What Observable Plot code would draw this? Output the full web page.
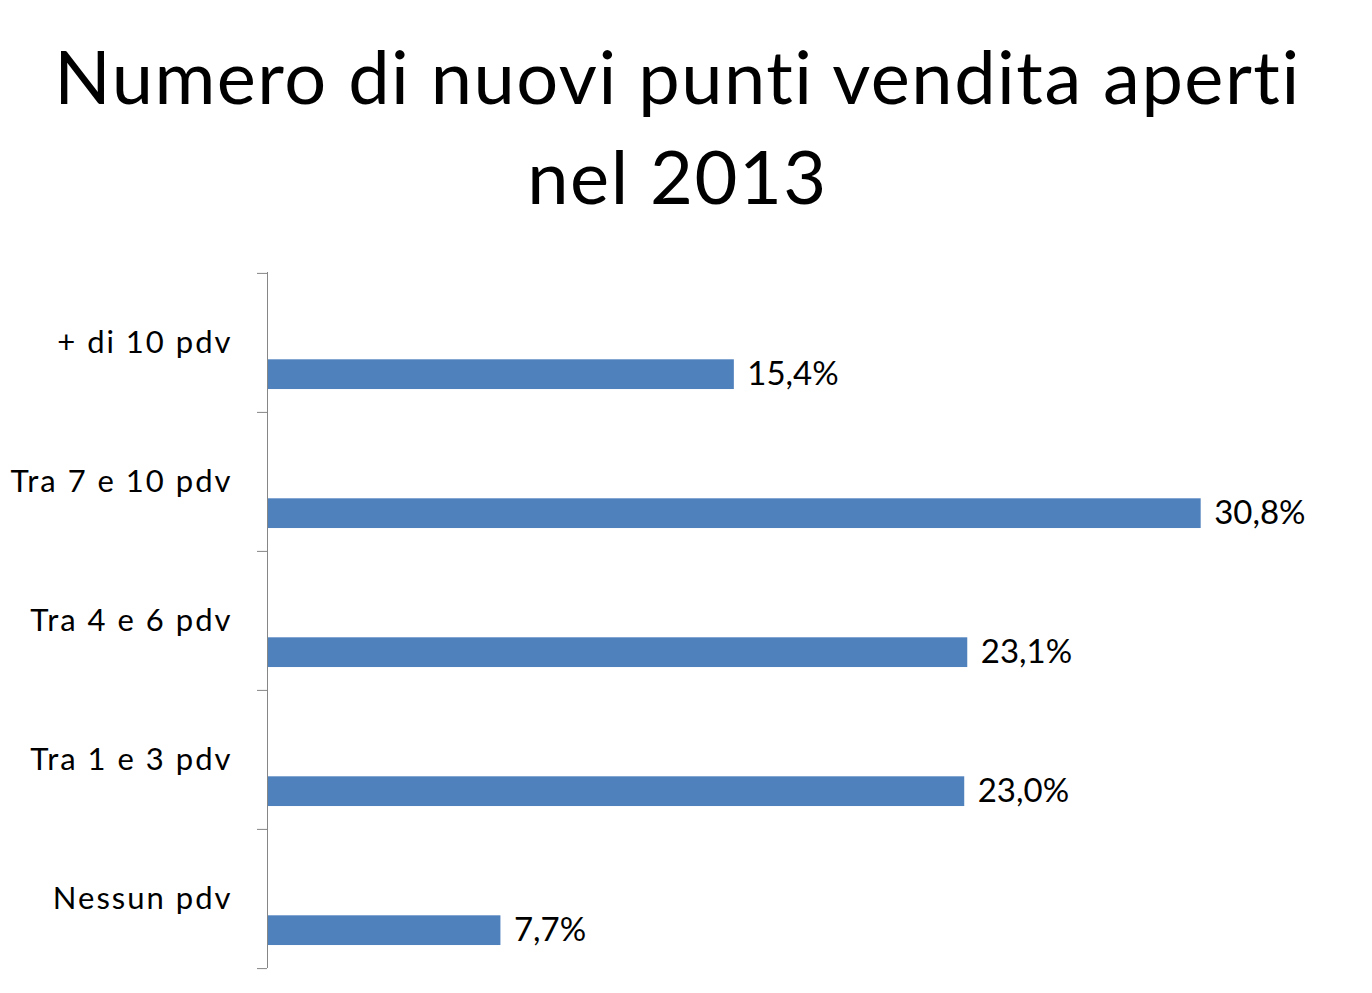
<!DOCTYPE html>
<html>
<head>
<meta charset="utf-8">
<script src="https://cdn.jsdelivr.net/npm/d3@7"></script>
<script src="https://cdn.jsdelivr.net/npm/@observablehq/plot@0.6"></script>
<style>
  html, body { margin: 0; padding: 0; background: #fff; }
  #title { width: 1355px; text-align: center; font-family: Lato, sans-serif; font-size: 74px; letter-spacing: 1.5px; font-variant-ligatures: none; line-height: 100px; color: #000; padding-top: 26px; height: 222px; box-sizing: border-box; }
  #chart svg { display: block; font-variant-ligatures: none; }
  #chart g[aria-label="y-axis tick label"] text { letter-spacing: 2px; }
</style>
</head>
<body>
<div id="title">Numero di nuovi punti vendita aperti<br>nel 2013</div>
<div id="chart"></div>
<script>
const categories = ["+ di 10 pdv", "Tra 7 e 10 pdv", "Tra 4 e 6 pdv", "Tra 1 e 3 pdv", "Nessun pdv"];
const values = [15.4, 30.8, 23.1, 23.0, 7.7];

const data = categories.map((c, i) => ({category: c, value: values[i]}));
const fmt = v => v.toFixed(1).replace(".", ",") + "%";

const height = 771;
const marginTop = 50, marginBottom = 25;
const bw = (height - marginTop - marginBottom) / categories.length;

const chart = Plot.plot({
  width: 1372,
  height,
  marginLeft: 267,
  marginRight: 44,
  marginTop,
  marginBottom,
  style: {fontFamily: "Lato, sans-serif", color: "#000", background: "#fff"},
  x: {domain: [0, 35], axis: null},
  y: {domain: categories, padding: 0, label: null},
  marks: [
    Plot.barX(data, {x: "value", y: "category", fill: "#4F81BD", insetTop: bw * 0.62, insetBottom: bw * 0.165}),
    Plot.text(data, {x: "value", y: "category", text: d => fmt(d.value), textAnchor: "start", dx: 13, dy: bw * 0.227, fontSize: 33, fill: "#000"}),
    Plot.axisY({tickSize: 0, tickPadding: 35, fontSize: 31, label: null, fill: "#000"}),
    Plot.axisY({tickSize: 10, tickFormat: () => "", dy: -bw / 2, label: null, stroke: "#868686", strokeOpacity: 1}),
    Plot.axisY({ticks: [categories[categories.length - 1]], tickSize: 10, tickFormat: () => "", dy: bw / 2, label: null, stroke: "#868686", strokeOpacity: 1}),
    Plot.ruleX([0], {stroke: "#868686", strokeWidth: 1})
  ]
});
document.getElementById("chart").appendChild(chart);
</script>
</body>
</html>
